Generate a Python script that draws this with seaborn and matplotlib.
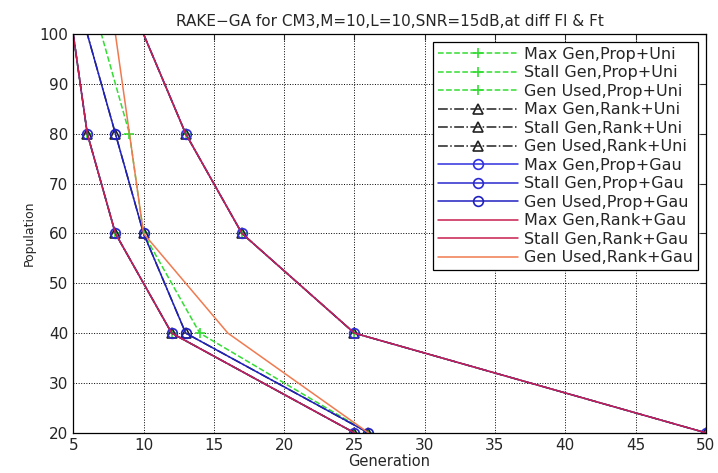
import matplotlib
matplotlib.use("Agg")
import matplotlib.pyplot as plt
import pandas as pd
import seaborn as sns

# ── Data ────────────────────────────────────────────────────────────────────
population = [20, 40, 60, 80, 100]

max_gen = [50, 25, 17, 13, 10]

stall_prop_uni = [25, 12, 8, 6, 5]
used_prop_uni = [26, 14, 10, 9, 7]

stall_rank_uni = [25, 12, 8, 6, 5]
used_rank_uni = [26, 13, 10, 8, 6]

stall_prop_gau = [25, 12, 8, 6, 5]
used_prop_gau = [26, 13, 10, 8, 6]

stall_rank_gau = [25, 12, 8, 6, 5]
used_rank_gau = [26, 16, 10, 9, 8]

series = [
    ("Max Gen,Prop+Uni", max_gen),
    ("Stall Gen,Prop+Uni", stall_prop_uni),
    ("Gen Used,Prop+Uni", used_prop_uni),
    ("Max Gen,Rank+Uni", max_gen),
    ("Stall Gen,Rank+Uni", stall_rank_uni),
    ("Gen Used,Rank+Uni", used_rank_uni),
    ("Max Gen,Prop+Gau", max_gen),
    ("Stall Gen,Prop+Gau", stall_prop_gau),
    ("Gen Used,Prop+Gau", used_prop_gau),
    ("Max Gen,Rank+Gau", max_gen),
    ("Stall Gen,Rank+Gau", stall_rank_gau),
    ("Gen Used,Rank+Gau", used_rank_gau),
]

# line styles per series (colour, linestyle, marker)
styles = [
    ("#33dd33", "--", "+"),
    ("#33dd33", "--", "+"),
    ("#33dd33", "--", "+"),
    ("#222222", "-.", "^"),
    ("#222222", "-.", "^"),
    ("#222222", "-.", "^"),
    ("#3030e0", "-", "o"),
    ("#2a2ad0", "-", "o"),
    ("#2020c0", "-", "o"),
    ("#c81e50", "-", None),
    ("#c81e50", "-", None),
    ("#f07a50", "-", None),
]

rows = []
for name, vals in series:
    for p, g in zip(population, vals):
        rows.append({"series": name, "Generation": g, "Population": p})
df = pd.DataFrame(rows)

sns.set_style("white")
plt.rcParams["font.family"] = ["DejaVu Sans"]

fig = plt.figure(figsize=(7.18, 4.73), dpi=100)
ax = fig.add_axes([0.102, 0.085, 0.881, 0.843])

for (name, _), (color, ls, mk) in zip(series, styles):
    kw = {}
    if mk is not None:
        kw = dict(marker=mk, markersize=7, markevery=[0, 1, 2, 3],
                  markerfacecolor="none" if mk != "+" else color,
                  markeredgecolor=color, markeredgewidth=1.2)
    sns.lineplot(data=df[df["series"] == name], x="Generation", y="Population",
                 sort=False, estimator=None, color=color, linestyle=ls,
                 linewidth=1.1, label=name, ax=ax, **kw)

ax.set_xlim(5, 50)
ax.set_ylim(20, 100)
ax.set_xticks(range(5, 51, 5))
ax.set_yticks(range(20, 101, 10))
ax.grid(True, color="black", linestyle=":", linewidth=0.7)
ax.tick_params(direction="in", top=True, right=True, labelsize=11, length=4)
for s in ax.spines.values():
    s.set_color("black")
    s.set_linewidth(0.9)

ax.set_xlabel("Generation", fontsize=10.5, labelpad=1)
ax.set_ylabel("Population", fontsize=9, labelpad=3)
ax.set_title("RAKE\u2212GA for CM3,M=10,L=10,SNR=15dB,at diff Fl & Ft",
             fontsize=11, pad=6)

leg = ax.legend(loc="upper right", fontsize=11.5, frameon=True, fancybox=False,
                edgecolor="black", framealpha=1, handlelength=5.0,
                labelspacing=0.22, borderaxespad=0.5, borderpad=0.3,
                handletextpad=0.4)
leg.get_frame().set_linewidth(0.9)

fig.savefig("out.png", dpi=100)
